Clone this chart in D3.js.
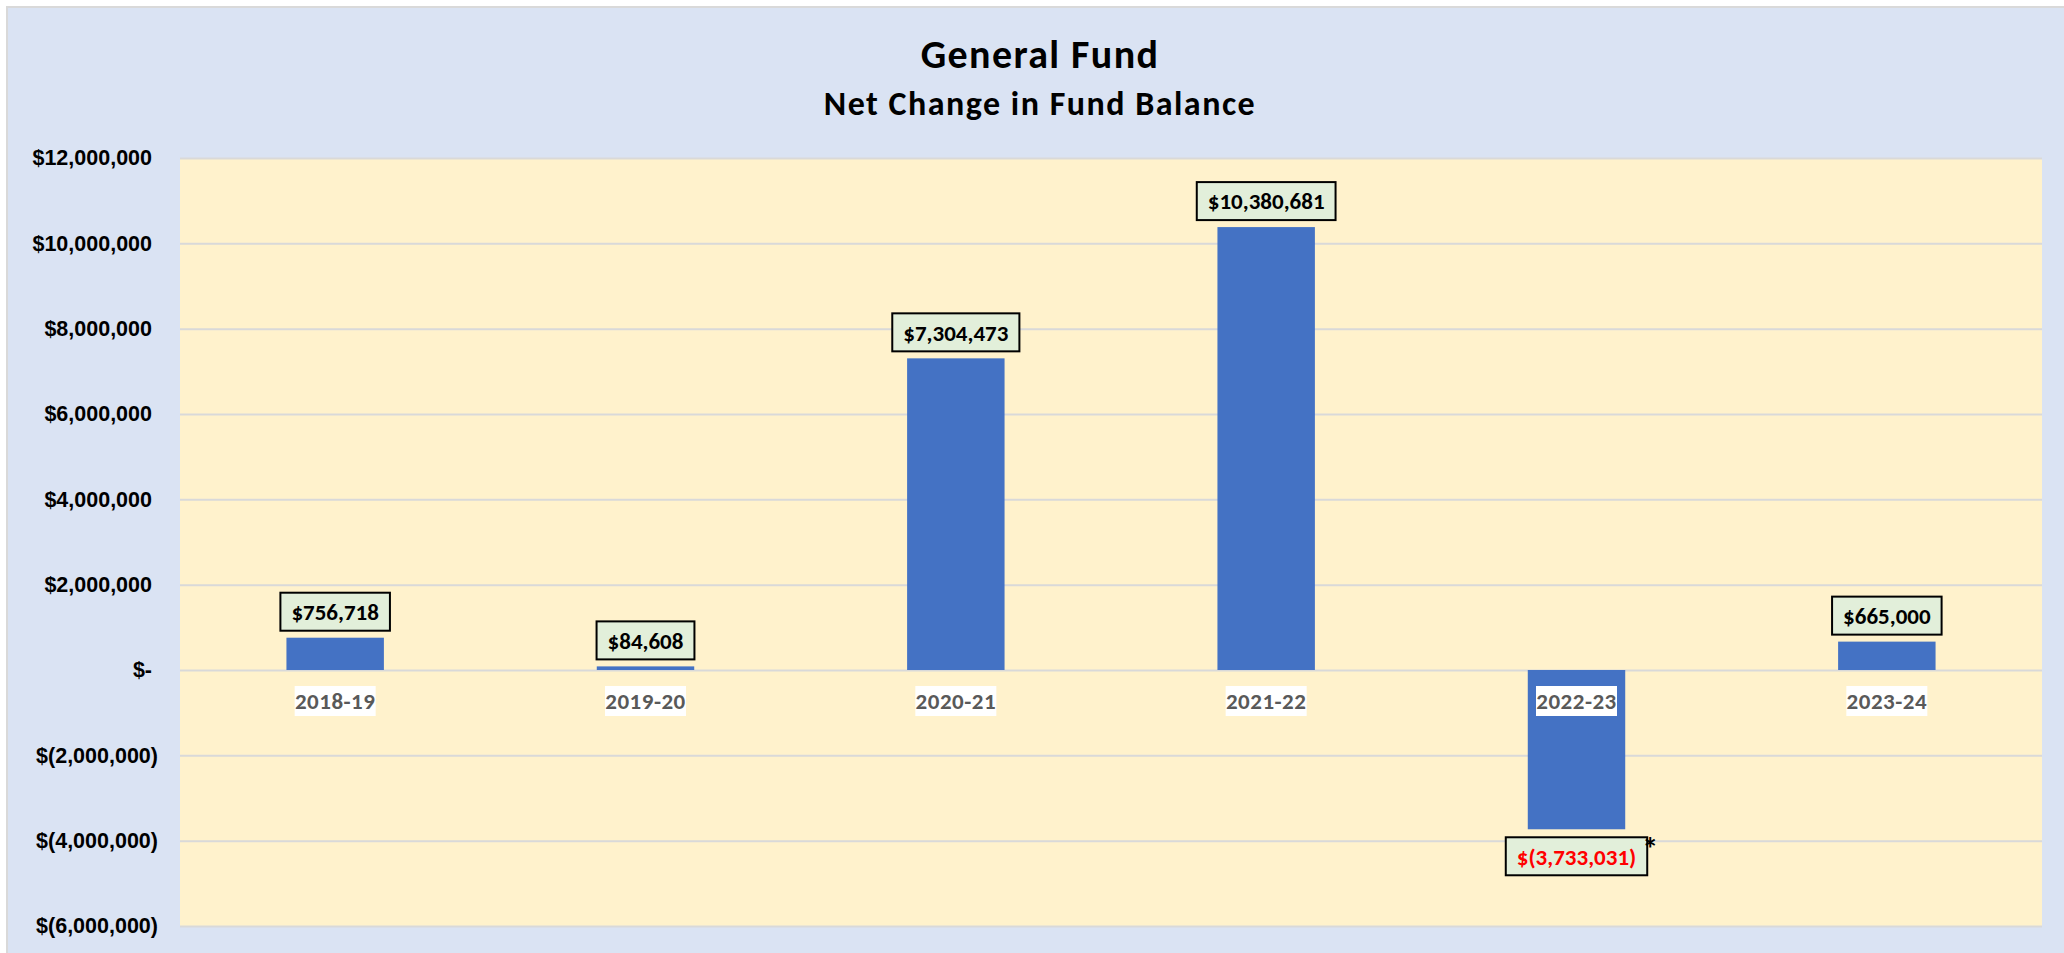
<!DOCTYPE html>
<html>
<head>
<meta charset="utf-8">
<script src="https://cdn.jsdelivr.net/npm/d3@7"></script>
<style>
  body { margin: 0; background: #fff; }
  svg { display: block; font-family: Carlito, Lato, "Liberation Sans", sans-serif; font-weight: bold; }
</style>
</head>
<body>
<svg id="chart"></svg>
<script>
// chart values
var years = ["2018-19", "2019-20", "2020-21", "2021-22", "2022-23", "2023-24"]
var netChange = [756718, 84608, 7304473, 10380681, -3733031, 665000]
var notes = ["", "", "", "", "*", ""]
var yTicks = [-6000000, -4000000, -2000000, 0, 2000000, 4000000, 6000000, 8000000, 10000000, 12000000]

var dimensions = {
    width: 2064,
    height: 953,
    margin: { top: 158, bottom: 27, left: 180, right: 22 }
}
dimensions.boundedWidth = dimensions.width - dimensions.margin.left - dimensions.margin.right
dimensions.boundedHeight = dimensions.height - dimensions.margin.top - dimensions.margin.bottom

var data = years.map(function (y, i) { return { year: y, value: netChange[i], note: notes[i] } })

var svg = d3.select("#chart")
    .attr("width", dimensions.width)
    .attr("height", dimensions.height)

// outer chart area
svg.append("rect")
    .attr("x", 7).attr("y", 7)
    .attr("width", dimensions.width + 10).attr("height", dimensions.height + 10)
    .attr("fill", "#DAE3F3")
    .attr("stroke", "#D9D9D9")
    .attr("stroke-width", 2)

// titles
svg.append("text")
    .attr("x", 1040).attr("y", 68)
    .attr("text-anchor", "middle")
    .style("font-size", "40px")
    .style("letter-spacing", "1.4px")
    .text("General Fund")

svg.append("text")
    .attr("x", 1040).attr("y", 115)
    .attr("text-anchor", "middle")
    .style("font-size", "34px")
    .style("letter-spacing", "1.5px")
    .text("Net Change in Fund Balance")

var bounds = svg.append("g")
    .attr("transform", "translate(" + dimensions.margin.left + "," + dimensions.margin.top + ")")

// plot area
bounds.append("rect")
    .attr("width", dimensions.boundedWidth)
    .attr("height", dimensions.boundedHeight)
    .attr("fill", "#FFF2CC")

var xScale = d3.scaleBand()
    .domain(years)
    .range([0, dimensions.boundedWidth])
    .paddingInner(0.686)
    .paddingOuter(0.343)

var yScale = d3.scaleLinear()
    .domain([d3.min(yTicks), d3.max(yTicks)])
    .range([dimensions.boundedHeight, 0])

// gridlines
bounds.append("g")
    .call(d3.axisLeft(yScale).tickValues(yTicks).tickSize(-dimensions.boundedWidth).tickFormat(""))
    .call(function (g) { g.select(".domain").remove() })
    .selectAll("line")
    .attr("stroke", "#D9D9D9")
    .attr("stroke-width", 2)

// y axis labels, accounting style
var money = d3.format(",")
var yAxis = bounds.append("g")
    .call(d3.axisLeft(yScale).tickValues(yTicks).tickSize(0).tickPadding(28)
        .tickFormat(function (d) {
            if (d === 0) return "$-"
            return d < 0 ? "$(" + money(-d) + ")" : "$" + money(d)
        }))
yAxis.select(".domain").remove()
yAxis.selectAll("text")
    .attr("fill", "#000")
    .style("font-size", "21.5px")
    .style("font-family", null)
    .attr("dx", function (d) { return d < 0 ? 6 : 0 })

// bars
bounds.selectAll(".bar")
    .data(data)
    .enter()
    .append("rect")
    .attr("class", "bar")
    .attr("x", d => xScale(d.year))
    .attr("y", d => yScale(Math.max(0, d.value)))
    .attr("width", xScale.bandwidth())
    .attr("height", d => Math.abs(yScale(d.value) - yScale(0)))
    .attr("fill", "#4472C4")

// category labels on white boxes
var cats = bounds.selectAll(".cat")
    .data(data)
    .enter()
    .append("g")
    .attr("class", "cat")
    .attr("transform", d => "translate(" + (xScale(d.year) + xScale.bandwidth() / 2) + "," + (yScale(0) + 31) + ")")
cats.append("rect")
    .attr("x", -40.5).attr("y", -15)
    .attr("width", 81).attr("height", 30)
    .attr("fill", "#fff")
cats.append("text")
    .attr("text-anchor", "middle")
    .attr("dy", "0.36em")
    .attr("fill", "#595959")
    .style("font-size", "23px")
    .style("letter-spacing", "0.5px")
    .text(d => d.year)

// value labels
var labels = bounds.selectAll(".lbl")
    .data(data)
    .enter()
    .append("g")
    .attr("class", "lbl")
    .attr("transform", function (d) {
        var cx = xScale(d.year) + xScale.bandwidth() / 2
        var cy = d.value >= 0 ? yScale(d.value) - 7 - 19 : yScale(d.value) + 8 + 19
        return "translate(" + cx + "," + cy + ")"
    })
var lblBox = labels.append("rect")
    .attr("fill", "#E2EFDA")
    .attr("stroke", "#000")
    .attr("stroke-width", 2)
var lblText = labels.append("text")
    .attr("text-anchor", "middle")
    .attr("dy", "0.36em")
    .attr("fill", d => d.value < 0 ? "#FF0000" : "#000")
    .style("font-size", "23px")
    .text(d => d.value < 0 ? "$(" + money(-d.value) + ")" : "$" + money(d.value))

lblText.each(function (d) { d.w = this.getComputedTextLength() + 22 })
lblBox
    .attr("x", d => -d.w / 2).attr("y", -19)
    .attr("width", d => d.w).attr("height", 38)

labels.filter(d => d.note)
    .append("text")
    .attr("x", d => d.w / 2 + 3)
    .attr("y", 4)
    .attr("text-anchor", "middle")
    .style("font-size", "32px")
    .text(d => d.note)
</script>
</body>
</html>
